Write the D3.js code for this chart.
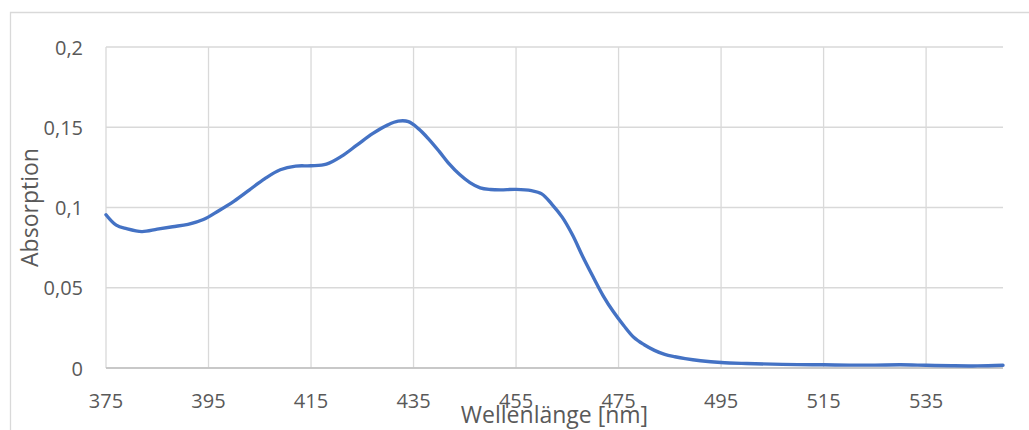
<!DOCTYPE html>
<html>
<head>
<meta charset="utf-8">
<script src="https://cdn.jsdelivr.net/npm/d3@7"></script>
<style>
  html, body { margin: 0; padding: 0; background: #ffffff; }
  svg { display: block; }
  text { font-family: "Open Sans", "Noto Sans", sans-serif; fill: #595959; }
</style>
</head>
<body>
<svg id="chart" width="1029" height="430"></svg>
<script>
// Wavelengths (nm) and absorption values
const wavelengths = [375,377,379,382,385,388,391,394,397,400,403,406,409,412,415,418,421,424,427,430,432,434,436,438,440,442,444,446,448,450,452,455,458,460,462,464,466,468,470,472,474,476,478,480,482,484,486,488,491,495,500,505,510,515,520,525,530,535,540,545,550];
const absorption = [0.0955,0.089,0.0868,0.085,0.0865,0.088,0.0895,0.0925,0.098,0.104,0.111,0.118,0.1235,0.1258,0.126,0.127,0.132,0.139,0.146,0.1515,0.1538,0.1535,0.149,0.1425,0.135,0.127,0.1205,0.1155,0.1122,0.1112,0.111,0.1113,0.1105,0.1085,0.102,0.094,0.083,0.0695,0.057,0.045,0.035,0.0265,0.019,0.0145,0.011,0.0085,0.007,0.0058,0.0045,0.0034,0.0028,0.0024,0.0021,0.002,0.0018,0.0018,0.002,0.0017,0.0014,0.0013,0.0017];
const xTicks = [375,395,415,435,455,475,495,515,535];
const yTicks = [0,0.05,0.1,0.15,0.2];
const xTitle = "Wellenlänge [nm]";
const yTitle = "Absorption";

const svg = d3.select("#chart");
const plot = {left: 106, right: 1003, top: 47, bottom: 368};

// outer chart border (clipped like the reference)
svg.append("path")
  .attr("d", "M10.5,430 L10.5,12.5 L1029,12.5")
  .attr("fill", "none").attr("stroke", "#d9d9d9").attr("stroke-width", 1.3);

const x = d3.scaleLinear().domain([375, 550]).range([plot.left, plot.right]);
const y = d3.scaleLinear().domain([0, 0.2]).range([plot.bottom, plot.top]);

// horizontal gridlines
svg.append("g").selectAll("line").data(yTicks).join("line")
  .attr("x1", plot.left).attr("x2", plot.right)
  .attr("y1", d => y(d)).attr("y2", d => y(d))
  .attr("stroke", "#d9d9d9").attr("stroke-width", 1.3);

// vertical gridlines
svg.append("g").selectAll("line").data(xTicks).join("line")
  .attr("x1", d => x(d)).attr("x2", d => x(d))
  .attr("y1", plot.top).attr("y2", plot.bottom)
  .attr("stroke", "#d9d9d9").attr("stroke-width", 1.3);

// baseline axis
svg.append("line")
  .attr("x1", plot.left).attr("x2", plot.right)
  .attr("y1", y(0)).attr("y2", y(0))
  .attr("stroke", "#bfbfbf").attr("stroke-width", 1.3);

const fmt = d => String(d).replace(".", ",");

// y tick labels
svg.append("g").selectAll("text").data(yTicks).join("text")
  .attr("x", 83).attr("y", d => y(d))
  .attr("text-anchor", "end").attr("dominant-baseline", "central")
  .style("font-size", "20px")
  .text(fmt);

// x tick labels
svg.append("g").selectAll("text").data(xTicks).join("text")
  .attr("x", d => x(d)).attr("y", 400)
  .attr("text-anchor", "middle").attr("dominant-baseline", "central")
  .style("font-size", "20px")
  .text(d => d);

// line
const data = wavelengths.map((w, i) => ({w, a: absorption[i]}));
svg.append("path")
  .datum(data)
  .attr("fill", "none")
  .attr("stroke", "#4472C4")
  .attr("stroke-width", 3.4)
  .attr("stroke-linejoin", "round")
  .attr("stroke-linecap", "round")
  .attr("d", d3.line().x(d => x(d.w)).y(d => y(d.a)).curve(d3.curveCatmullRom.alpha(0.5)));

// axis titles
svg.append("text")
  .attr("x", (plot.left + plot.right) / 2).attr("y", 423)
  .attr("text-anchor", "middle")
  .style("font-size", "23px")
  .text(xTitle);

svg.append("text")
  .attr("transform", `translate(38,${(plot.top + plot.bottom) / 2}) rotate(-90)`)
  .attr("text-anchor", "middle")
  .style("font-size", "23px")
  .text(yTitle);
</script>
</body>
</html>
